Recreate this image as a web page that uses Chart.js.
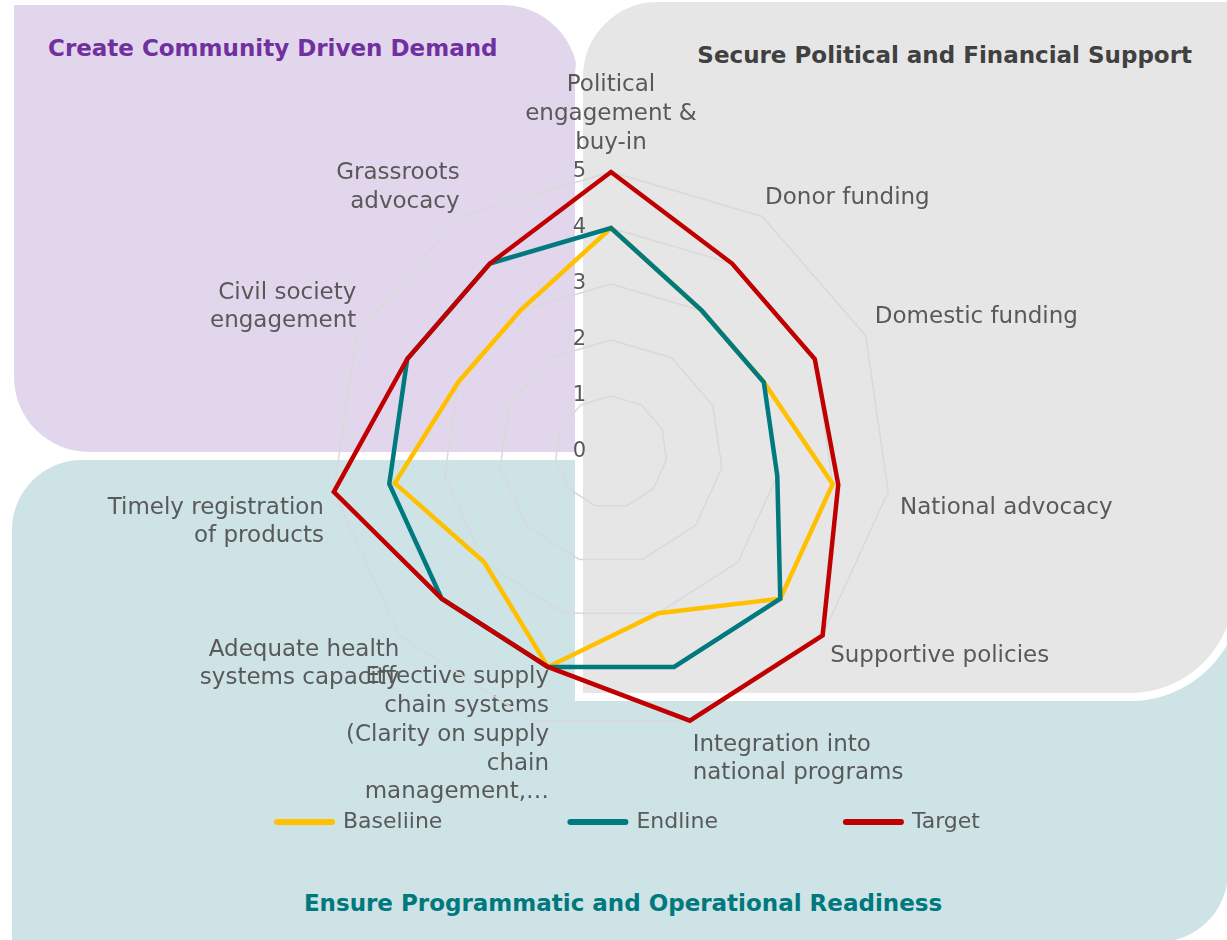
<!DOCTYPE html>
<html>
<head>
<meta charset="utf-8">
<title>Radar</title>
<script src="https://cdn.jsdelivr.net/npm/chart.js@4.4.1/dist/chart.umd.min.js"></script>
<style>
  body { margin: 0; background: #fff; }
  #pagina { position: relative; width: 1227px; height: 940px; overflow: hidden; font-family: "DejaVu Sans", sans-serif; }
  .painel { position: absolute; box-sizing: border-box; }
  #painel-roxo { left: 14px; top: 5px; width: 564px; height: 447px; background: #e2d6ec; border-radius: 0 75px 0 75px; }
  #painel-verde { left: 12px; top: 460px; width: 1216px; height: 482px; background: #cde3e6; border-radius: 70px 0 70px 0; }
  #painel-cinza { left: 575px; top: -6px; width: 667px; height: 707px; background: #e6e6e6; border: 8px solid #fff; border-radius: 83px 0 112px 0; }
  .titulo { position: absolute; font-weight: bold; font-size: 23px; line-height: 28px; white-space: nowrap; }
  #titulo-roxo { left: 48px; top: 34px; color: #7030a0; }
  #titulo-cinza { right: 35px; top: 41px; color: #404040; }
  #titulo-verde { left: 12px; width: 1222px; top: 889px; text-align: center; color: #00787e; }
  #grafico { position: absolute; left: 0; top: 0; }
</style>
</head>
<body>
<div id="pagina">
  <div class="painel" id="painel-verde"></div>
  <div class="painel" id="painel-roxo"></div>
  <div class="painel" id="painel-cinza"></div>
  <div class="titulo" id="titulo-roxo">Create Community Driven Demand</div>
  <div class="titulo" id="titulo-cinza">Secure Political and Financial Support</div>
  <div class="titulo" id="titulo-verde">Ensure Programmatic and Operational Readiness</div>
  <canvas id="grafico" width="1227" height="940"></canvas>
</div>
<script>
// dados (escala 0 a 5)
const categorias = [
  ['Political', 'engagement &', 'buy-in'],
  'Donor funding',
  'Domestic funding',
  'National advocacy',
  'Supportive policies',
  ['Integration into', 'national programs'],
  ['Effective supply', 'chain systems', '(Clarity on supply', 'chain', 'management,…'],
  ['Adequate health', 'systems capacity'],
  ['Timely registration', 'of products'],
  ['Civil society', 'engagement'],
  ['Grassroots', 'advocacy']
];
const baseline = [4, 3, 3, 4, 4, 3, 4, 3, 3.9, 3, 3];
const endline = [4, 3, 3, 3, 4, 4, 4, 4, 4, 4, 4];
const target = [5, 4, 4, 4.1, 5, 5, 4, 4, 5, 4, 4];
const nomesSeries = ['Baseliine', 'Endline', 'Target'];

const fonte = '"DejaVu Sans", sans-serif';
const corTexto = '#595959';

// centro e raio do radar medidos na figura
const centro = { x: 611, y: 452 };
const raio = 280;
const afastamentoRotulos = [15, 5, 10, 12, 10, 10, -60, 0, 10, 0, 0];

// numeros da escala ficam a esquerda do eixo, como no Excel
const numerosEscala = {
  id: 'numerosEscala',
  beforeDatasetsDraw(chart) {
    const escala = chart.scales.r;
    const ctx = chart.ctx;
    ctx.save();
    ctx.font = '21px ' + fonte;
    ctx.fillStyle = corTexto;
    ctx.textAlign = 'right';
    ctx.textBaseline = 'middle';
    escala.ticks.forEach(t => {
      const y = escala.yCenter - escala.getDistanceFromCenterForValue(t.value);
      ctx.fillText(t.label, escala.xCenter - 25, y);
    });
    ctx.restore();
  }
};

Chart.defaults.font.family = fonte;

const grafico = new Chart(document.getElementById('grafico'), {
  type: 'radar',
  data: {
    labels: categorias,
    datasets: [
      { label: nomesSeries[0], data: baseline, borderColor: '#ffc000', backgroundColor: '#ffc000', order: 3 },
      { label: nomesSeries[1], data: endline, borderColor: '#00797f', backgroundColor: '#00797f', order: 2 },
      { label: nomesSeries[2], data: target, borderColor: '#c00000', backgroundColor: '#c00000', order: 1 }
    ]
  },
  options: {
    responsive: false,
    animation: false,
    layout: { padding: { left: 30, right: 0, top: 0, bottom: 97 } },
    elements: {
      line: { borderWidth: 4.5, fill: false, tension: 0, borderJoinStyle: 'miter', borderCapStyle: 'round' },
      point: { radius: 0, hoverRadius: 0 }
    },
    datasets: { radar: { clip: false } },
    scales: {
      r: {
        min: 0,
        max: 5,
        ticks: { stepSize: 1, display: false },
        grid: { color: '#d9d9d9', lineWidth: 1.5 },
        angleLines: { display: false },
        pointLabels: {
          color: corTexto,
          font: { size: 23, lineHeight: 1.25 },
          padding: (ctx) => afastamentoRotulos[ctx.index]
        },
        afterSetDimensions: (escala) => {
          escala.left = 0;
          escala.top = 0;
          escala.right = escala.chart.width;
          escala.bottom = escala.chart.height;
          escala.xCenter = centro.x;
          escala.yCenter = centro.y;
          escala.drawingArea = raio;
        }
      }
    },
    plugins: {
      tooltip: { enabled: false },
      legend: {
        position: 'bottom',
        reverse: true,
        labels: {
          color: corTexto,
          font: { size: 22 },
          usePointStyle: true,
          pointStyle: 'line',
          pointStyleWidth: 55,
          padding: 128,
          generateLabels(chart) {
            const itens = Chart.defaults.plugins.legend.labels.generateLabels(chart);
            itens.forEach(i => { i.lineWidth = 6; i.lineCap = 'round'; });
            return itens;
          }
        }
      }
    }
  },
  plugins: [numerosEscala]
});
</script>
</body>
</html>
